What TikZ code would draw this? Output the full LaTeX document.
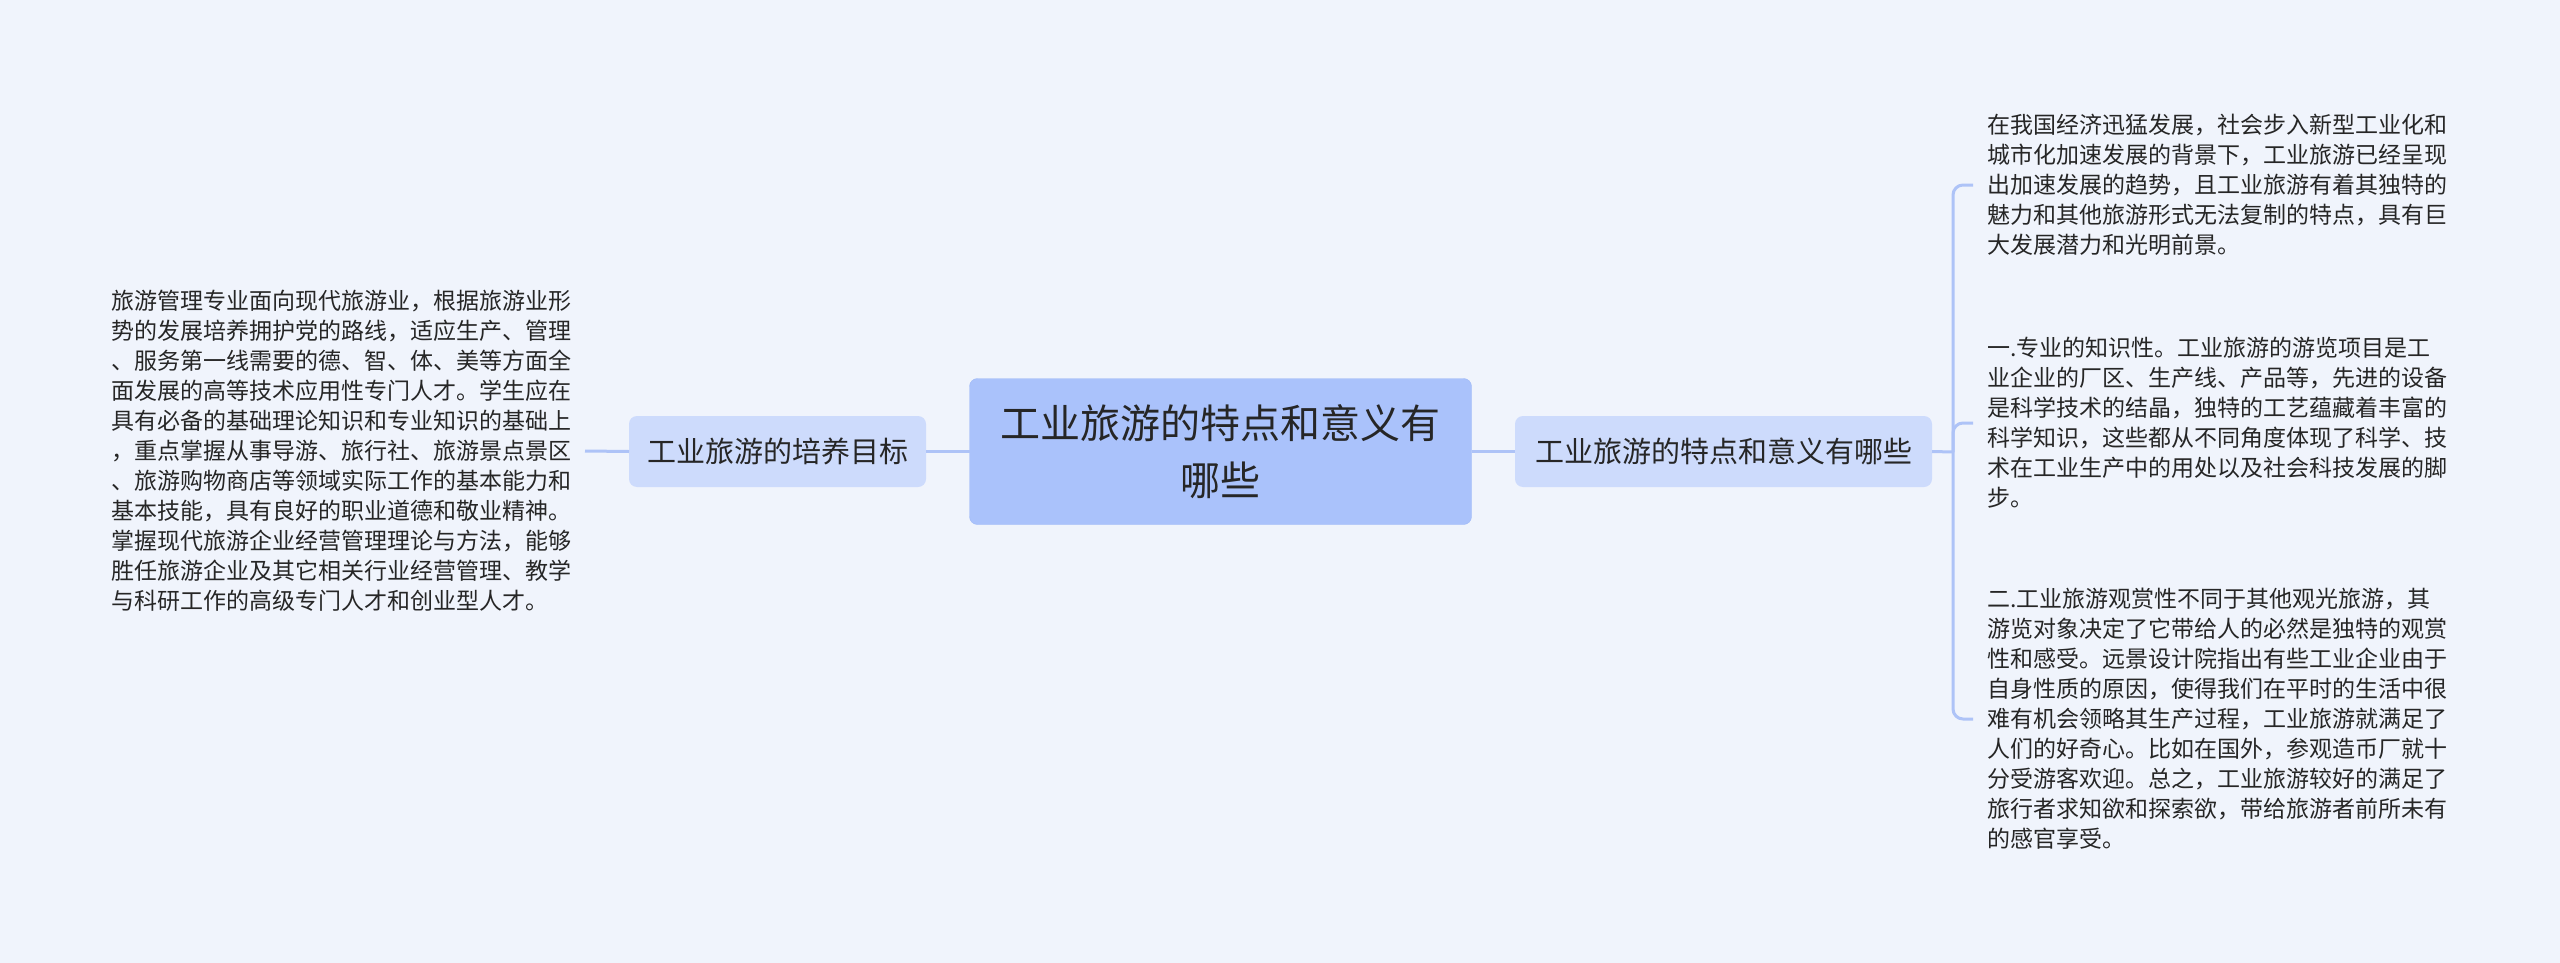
\documentclass[tikz,border=0pt]{standalone}
\usepackage{fontspec}
\setmainfont{Noto Sans CJK SC}
\begin{document}
\begin{tikzpicture}[x=1pt,y=-1pt,
  every node/.style={text={rgb,255:red,38;green,38;blue,38}, inner sep=0pt, outer sep=0pt},
  root/.style={fill={rgb,255:red,170;green,194;blue,251}, draw={rgb,255:red,160;green,186;blue,247}, rounded corners=8pt, minimum width=502pt, minimum height=146pt, align=center, font=\fontsize{40}{57}\selectfont},
  kid/.style={fill={rgb,255:red,205;green,219;blue,252}, rounded corners=8pt, minimum height=71pt, font=\fontsize{29}{36}\selectfont},
  leaf/.style={anchor=west, align=left, font=\fontsize{23}{30}\selectfont},
  link/.style={draw={rgb,255:red,174;green,195;blue,247}, line width=3pt, rounded corners=10pt}]
\fill[fill={rgb,255:red,240;green,244;blue,252}] (0,0) rectangle (2560,963);
\node[root] (theme) at (1220.5,451.5) {工业旅游的特点和意义有\\哪些};
\node[kid, minimum width=297pt] (goal) at (777.5,451.5) {工业旅游的培养目标};
\node[kid, minimum width=417pt] (trait) at (1723.5,451.5) {工业旅游的特点和意义有哪些};
% left detail
\node[leaf] (goaltext) at (111,451) {旅游管理专业面向现代旅游业，根据旅游业形\\势的发展培养拥护党的路线，适应生产、管理\\、服务第一线需要的德、智、体、美等方面全\\面发展的高等技术应用性专门人才。学生应在\\具有必备的基础理论知识和专业知识的基础上\\，重点掌握从事导游、旅行社、旅游景点景区\\、旅游购物商店等领域实际工作的基本能力和\\基本技能，具有良好的职业道德和敬业精神。\\掌握现代旅游企业经营管理理论与方法，能够\\胜任旅游企业及其它相关行业经营管理、教学\\与科研工作的高级专门人才和创业型人才。};
% right details
\node[leaf] (trend) at (1987,185) {在我国经济迅猛发展，社会步入新型工业化和\\城市化加速发展的背景下，工业旅游已经呈现\\出加速发展的趋势，且工业旅游有着其独特的\\魅力和其他旅游形式无法复制的特点，具有巨\\大发展潜力和光明前景。};
\node[leaf] (know) at (1987,423) {一.专业的知识性。工业旅游的游览项目是工\\业企业的厂区、生产线、产品等，先进的设备\\是科学技术的结晶，独特的工艺蕴藏着丰富的\\科学知识，这些都从不同角度体现了科学、技\\术在工业生产中的用处以及社会科技发展的脚\\步。};
\node[leaf] (view) at (1987,719) {二.工业旅游观赏性不同于其他观光旅游，其\\游览对象决定了它带给人的必然是独特的观赏\\性和感受。远景设计院指出有些工业企业由于\\自身性质的原因，使得我们在平时的生活中很\\难有机会领略其生产过程，工业旅游就满足了\\人们的好奇心。比如在国外，参观造币厂就十\\分受游客欢迎。总之，工业旅游较好的满足了\\旅行者求知欲和探索欲，带给旅游者前所未有\\的感官享受。};
\coordinate (fork) at (1953,452);
\draw[link] ([xshift=14pt]goaltext.east) -- (goal.west);
\draw[link] (goal.east) -- (theme.west);
\draw[link] (theme.east) -- (trait.west);
\draw[link] (trait.east) -- (fork);
\draw[link] ([xshift=-14pt]trend.west) -| (fork);
\draw[link] ([xshift=-14pt]know.west) -| (fork);
\draw[link] ([xshift=-14pt]view.west) -| (fork);
\end{tikzpicture}
\end{document}
